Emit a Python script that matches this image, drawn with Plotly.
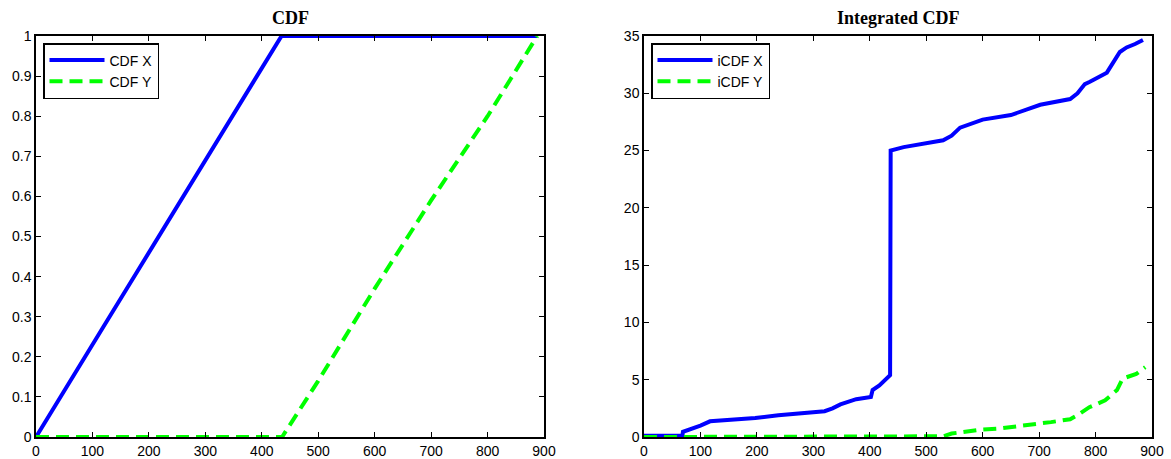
import plotly.graph_objects as go

# CDF panel
cdf_x_pos = [0, 60, 120, 180, 250, 300, 360, 435, 888]
cdf_x_val = [0, 0.14, 0.276, 0.414, 0.575, 0.69, 0.83, 1.0, 1.0]
cdf_y_pos = [0, 432, 436, 500, 600, 700, 800, 888]
cdf_y_val = [0, 0, 0.0, 0.14, 0.37, 0.59, 0.80, 1.0]

# Integrated CDF panel
icdf_x_pos = [0, 68, 69, 85, 100, 117, 148, 197, 238, 293, 320, 334, 348, 376, 397,
              402, 405, 417, 436, 437, 460, 500, 530, 545, 560, 600, 650, 702,
              755, 768, 781, 790, 820, 843, 855, 870, 884]
icdf_x_val = [0.1, 0.1, 0.45, 0.7, 1.0, 1.37, 1.45, 1.66, 1.9, 2.1, 2.25, 2.5, 2.85, 3.3,
              3.45, 3.5, 4.1, 4.5, 5.4, 25.0, 25.3, 25.6, 25.9, 26.3, 27.0, 27.7, 28.1, 29.0,
              29.5, 30.0, 30.8, 31.0, 31.8, 33.6, 34.0, 34.3, 34.65]
icdf_y_pos = [0, 430, 470, 530, 545, 569, 597, 631, 679, 721, 755, 768, 789, 817,
              838, 848, 872, 888]
icdf_y_val = [0, 0.02, 0.05, 0.06, 0.3, 0.5, 0.65, 0.75, 1.0, 1.3, 1.55, 1.9, 2.6, 3.2,
              4.1, 5.1, 5.5, 6.1]

x_ticks = list(range(0, 1000, 100))
cdf_ticks = [0, 0.1, 0.2, 0.3, 0.4, 0.5, 0.6, 0.7, 0.8, 0.9, 1]
cdf_tick_text = ["0", "0.1", "0.2", "0.3", "0.4", "0.5", "0.6", "0.7", "0.8", "0.9", "1"]
icdf_ticks = [0, 5, 10, 15, 20, 25, 30, 35]

BLUE = "#0000ff"
GREEN = "#00ff00"
DASH = "13px,7px"

fig = go.Figure()
fig.add_trace(go.Scatter(x=cdf_x_pos, y=cdf_x_val, mode="lines", name="CDF X",
                         line=dict(color=BLUE, width=4), xaxis="x", yaxis="y", legend="legend"))
fig.add_trace(go.Scatter(x=cdf_y_pos, y=cdf_y_val, mode="lines", name="CDF Y",
                         line=dict(color=GREEN, width=4, dash=DASH), xaxis="x", yaxis="y",
                         legend="legend"))
fig.add_trace(go.Scatter(x=icdf_x_pos, y=icdf_x_val, mode="lines", name="iCDF X",
                         line=dict(color=BLUE, width=4), xaxis="x2", yaxis="y2", legend="legend2"))
fig.add_trace(go.Scatter(x=icdf_y_pos, y=icdf_y_val, mode="lines", name="iCDF Y",
                         line=dict(color=GREEN, width=4, dash=DASH), xaxis="x2", yaxis="y2",
                         legend="legend2"))

tick_font = dict(family="Liberation Sans, Arial, sans-serif", size=14, color="black")
title_font = dict(family="Liberation Serif, Times New Roman, serif", size=18, color="black")
axis_common = dict(showgrid=False, zeroline=False, showline=True, linecolor="black", linewidth=1.5,
                   mirror="ticks", ticks="inside", ticklen=5, tickcolor="black", tickwidth=1,
                   tickfont=tick_font, automargin=False)

y_dom = [22 / 459, 423 / 459]
fig.update_layout(
    width=1171, height=459,
    margin=dict(l=0, r=0, t=0, b=0, pad=0),
    paper_bgcolor="white", plot_bgcolor="white",
    xaxis=dict(domain=[36 / 1171, 544 / 1171], range=[0, 900], tickvals=x_ticks, anchor="y", **axis_common),
    yaxis=dict(domain=y_dom, range=[0, 1], tickvals=cdf_ticks, ticktext=cdf_tick_text, anchor="x",
               **axis_common),
    xaxis2=dict(domain=[644 / 1171, 1152 / 1171], range=[0, 900], tickvals=x_ticks, anchor="y2",
                **axis_common),
    yaxis2=dict(domain=y_dom, range=[0, 35], tickvals=icdf_ticks, anchor="x2", **axis_common),
    legend=dict(x=43 / 1171, y=1 - 43 / 459, xanchor="left", yanchor="top", bgcolor="white",
                bordercolor="black", borderwidth=1.5, font=tick_font, tracegroupgap=0,
                itemwidth=55),
    legend2=dict(x=651 / 1171, y=1 - 43 / 459, xanchor="left", yanchor="top", bgcolor="white",
                 bordercolor="black", borderwidth=1.5, font=tick_font, tracegroupgap=0,
                 itemwidth=55),
    annotations=[
        dict(text="<b>CDF</b>", x=290 / 1171, y=1 - 18 / 459, xref="paper", yref="paper",
             xanchor="center", yanchor="middle", showarrow=False, font=title_font),
        dict(text="<b>Integrated CDF</b>", x=898 / 1171, y=1 - 18 / 459, xref="paper",
             yref="paper", xanchor="center", yanchor="middle", showarrow=False, font=title_font),
    ],
)

fig.write_html("out.html")
